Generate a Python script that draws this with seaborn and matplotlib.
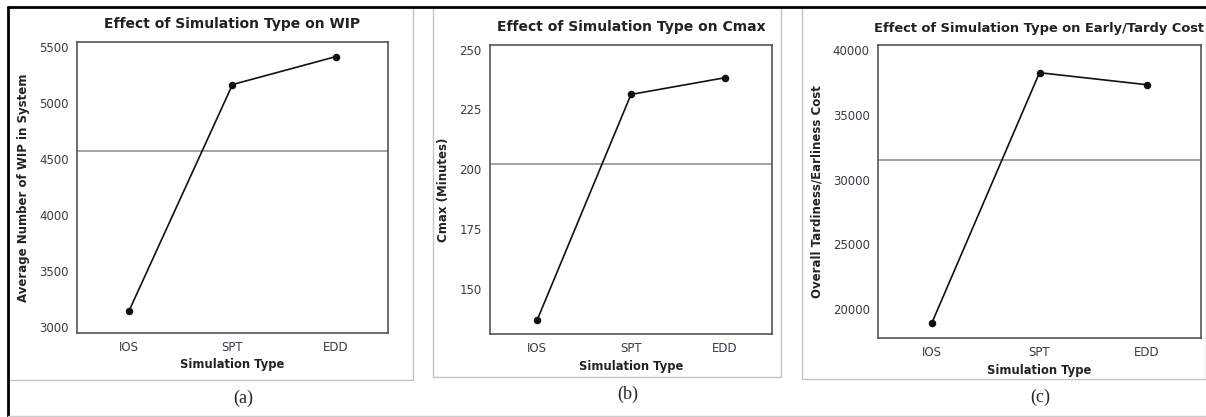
import numpy as np
import pandas as pd
import seaborn as sns
import matplotlib.pyplot as plt
from matplotlib.patches import Rectangle
from matplotlib.lines import Line2D

# дані
sim_types = ["IOS", "SPT", "EDD"]
wip = [3140, 5165, 5415]
cmax = [136.7, 231.3, 238.3]
cost = [18920, 38250, 37320]

titles = [
    "Effect of Simulation Type on WIP",
    "Effect of Simulation Type on Cmax",
    "Effect of Simulation Type on Early/Tardy Cost",
]
ylabels = [
    "Average Number of WIP in System",
    "Cmax (Minutes)",
    "Overall Tardiness/Earliness Cost",
]
panel_labels = ["(a)", "(b)", "(c)"]

sns.set_style("white")
plt.rcParams["font.family"] = ["DejaVu Sans"]

W, H = 1206, 417
fig = plt.figure(figsize=(W / 100, H / 100), dpi=100)

def px_rect(l, t, r, b):
    return [l / W, 1 - b / H, (r - l) / W, (b - t) / H]

# рамки панелей
for l, t, r, b in [(8, 7, 413, 380), (433, 7, 781, 377), (802, 7, 1206, 379)]:
    fig.patches.append(Rectangle((l / W, 1 - b / H), (r - l) / W, (b - t) / H,
                                 transform=fig.transFigure, fill=False,
                                 edgecolor="#c4c4c4", linewidth=1))
# зовнішня рамка таблиці
fig.lines.append(Line2D([8 / W, 1], [1 - 7 / H] * 2, transform=fig.transFigure,
                        color="black", linewidth=2))
fig.lines.append(Line2D([8 / W] * 2, [0, 1 - 7 / H], transform=fig.transFigure,
                        color="black", linewidth=2))
fig.lines.append(Line2D([8 / W, 1], [1 / H] * 2, transform=fig.transFigure,
                        color="#cccccc", linewidth=1))

axes_px = [(77, 42, 388, 333), (490, 45, 772, 334), (878, 45, 1201, 338)]
ylims = [(2946, 5545), (131, 252), (17760, 40390)]
yticks = [np.arange(3000, 5501, 500), np.arange(150, 251, 25), np.arange(20000, 40001, 5000)]
ylab_x = [-0.151, -0.142, -0.170]
title_y = [1.062, 1.063, 1.055]
title_size = [10, 10, 9.4]
xlab_y = [-0.086, -0.09, -0.089]
label_pos = [(243, 398), (628, 394), (1040, 397)]

for i, values in enumerate([wip, cmax, cost]):
    ax = fig.add_axes(px_rect(*axes_px[i]))
    df = pd.DataFrame({"type": sim_types, "value": values})
    sns.pointplot(data=df, x="type", y="value", color="#111111", errorbar=None,
                  markers="o", markersize=4.5, linewidth=1.2, ax=ax)
    ax.axhline(np.mean(values), color="#9a9a9a", linewidth=1.3, zorder=0)
    ax.set_xlim(-0.5, 2.5)
    ax.set_ylim(*ylims[i])
    ax.set_yticks(yticks[i])
    ax.tick_params(axis="both", direction="out", length=3, width=1,
                   color="#555555", labelsize=8.5, labelcolor="#3a3a4a", pad=3)
    for s in ax.spines.values():
        s.set_color("#555555")
        s.set_linewidth(1.2)
    ax.set_title(titles[i], fontsize=title_size[i], fontweight="bold", color="#222222",
                 y=title_y[i], va="center", pad=0)
    ax.set_xlabel("Simulation Type", fontsize=8.3, fontweight="bold", color="#222222")
    ax.xaxis.set_label_coords(0.5, xlab_y[i])
    ax.set_ylabel(ylabels[i], fontsize=8.5, fontweight="bold", color="#222222")
    ax.yaxis.set_label_coords(ylab_x[i], 0.5)
    x, y = label_pos[i]
    fig.text(x / W, 1 - y / H, panel_labels[i], ha="center", va="center",
             fontsize=13, family="Liberation Serif")

fig.savefig("out.png", dpi=100)
